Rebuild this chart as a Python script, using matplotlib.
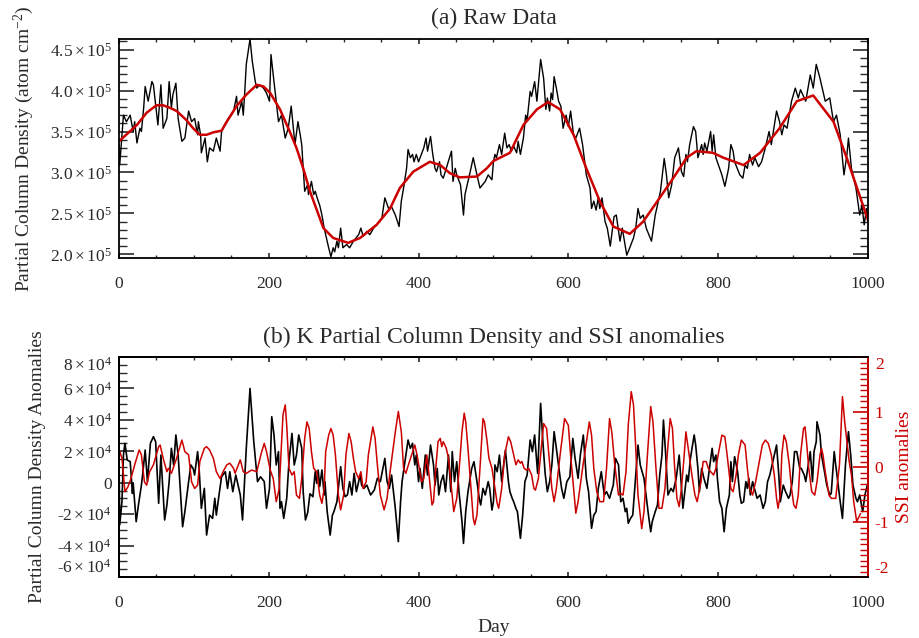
import numpy as np
import matplotlib
matplotlib.use('Agg')
import matplotlib.pyplot as plt
from matplotlib.ticker import MultipleLocator, FuncFormatter

# (a) raw partial column density, values in units of 1e5 atom cm^-2
raw_day = [0, 1, 6, 10, 15, 19, 21, 24, 28, 30, 33, 35, 39, 44, 46, 52, 56, 59, 64, 67,
           70, 72, 76, 79, 84, 88, 93, 97, 101, 105, 106, 109, 110, 115, 118, 121, 126, 130, 135, 137,
           141, 146, 150, 153, 157, 159, 164, 166, 168, 170, 175, 178, 182, 184, 188, 193, 197, 201, 203, 206,
           210, 213, 217, 222, 226, 230, 235, 239, 242, 244, 248, 252, 253, 255, 257, 260, 262, 266, 268, 271,
           274, 276, 280, 283, 286, 288, 291, 293, 296, 299, 304, 308, 313, 320, 323, 326, 331, 335, 340, 344,
           351, 355, 360, 364, 369, 374, 377, 380, 382, 384, 386, 389, 392, 394, 397, 400, 407, 410, 412, 416,
           419, 422, 424, 428, 430, 433, 437, 444, 446, 449, 451, 456, 460, 462, 464, 469, 473, 478, 482, 489,
           493, 498, 500, 502, 504, 508, 511, 515, 518, 521, 524, 527, 531, 533, 536, 540, 543, 545, 549, 551,
           555, 558, 563, 567, 570, 572, 575, 577, 579, 581, 584, 587, 590, 593, 597, 600, 603, 607, 610, 615,
           619, 624, 629, 631, 634, 637, 640, 642, 645, 649, 652, 656, 658, 661, 664, 669, 672, 678, 682, 687,
           690, 693, 696, 700, 704, 711, 716, 718, 723, 728, 731, 734, 738, 742, 747, 751, 754, 757, 759, 762,
           767, 770, 773, 778, 780, 782, 785, 790, 792, 794, 797, 802, 805, 809, 814, 817, 820, 822, 829, 833,
           836, 839, 842, 846, 849, 854, 858, 863, 868, 871, 878, 882, 885, 888, 892, 898, 903, 907, 910, 917,
           923, 927, 931, 936, 943, 949, 954, 958, 963, 968, 972, 974, 978, 984, 989, 992, 995, 998, 1000]
raw_val = [3.34, 3.09, 3.70, 3.62, 3.70, 3.50, 3.62, 3.36, 3.54, 3.50, 3.79, 4.05, 3.87, 4.11, 4.07, 3.58, 4.07, 3.54, 3.66, 4.11,
           3.79, 3.95, 4.09, 3.66, 3.38, 3.42, 3.75, 3.62, 3.66, 3.46, 3.62, 3.46, 3.24, 3.42, 3.13, 3.30, 3.26, 3.42, 3.26, 3.50,
           3.58, 3.66, 3.70, 3.75, 3.93, 3.70, 3.87, 3.70, 3.99, 4.32, 4.63, 4.36, 4.11, 4.03, 4.07, 4.03, 3.97, 3.87, 4.44, 4.19,
           3.87, 3.62, 3.70, 3.42, 3.54, 3.81, 3.34, 3.62, 3.46, 3.34, 2.77, 2.85, 2.73, 2.81, 2.89, 2.73, 2.77, 2.65, 2.60, 2.48,
           2.32, 2.24, 2.08, 1.97, 2.08, 2.03, 2.16, 2.08, 2.32, 2.08, 2.12, 2.08, 2.16, 2.24, 2.32, 2.22, 2.28, 2.24, 2.32, 2.36,
           2.44, 2.69, 2.56, 2.58, 2.48, 2.34, 2.65, 2.81, 2.93, 3.05, 3.28, 3.18, 3.22, 3.13, 3.22, 3.13, 3.30, 3.42, 3.26, 3.44,
           3.22, 3.05, 3.01, 3.13, 2.97, 2.93, 3.05, 3.26, 2.89, 3.05, 2.97, 2.85, 2.48, 2.73, 2.81, 3.01, 3.18, 2.97, 2.81, 2.89,
           2.97, 2.91, 3.13, 3.22, 3.18, 3.34, 3.22, 3.48, 3.30, 3.34, 3.26, 3.32, 3.24, 3.38, 3.22, 3.42, 3.70, 3.64, 3.99, 3.93,
           4.11, 3.87, 4.38, 4.15, 3.77, 3.91, 3.75, 3.97, 3.89, 4.17, 4.03, 3.87, 3.81, 3.54, 3.70, 3.56, 3.75, 3.46, 3.42, 3.54,
           3.34, 2.97, 2.81, 2.56, 2.65, 2.54, 2.69, 2.56, 2.69, 2.40, 2.32, 2.10, 2.24, 2.46, 2.48, 2.16, 2.32, 1.99, 2.08, 2.20,
           2.32, 2.56, 2.44, 2.48, 2.32, 2.16, 2.48, 2.56, 2.77, 3.17, 2.97, 2.69, 2.85, 3.18, 3.30, 3.01, 2.95, 3.22, 3.13, 3.34,
           3.56, 3.50, 3.18, 3.34, 3.22, 3.36, 3.26, 3.50, 3.26, 3.46, 3.18, 3.05, 2.97, 2.83, 3.05, 3.34, 3.26, 3.13, 2.97, 2.93,
           3.09, 3.05, 3.22, 3.09, 3.18, 3.07, 3.13, 3.30, 3.50, 3.34, 3.75, 3.62, 3.46, 3.58, 3.54, 3.87, 4.03, 3.91, 4.01, 3.87,
           4.19, 4.03, 4.32, 4.15, 3.87, 3.91, 3.62, 3.70, 3.46, 2.97, 3.22, 3.42, 3.05, 2.81, 2.48, 2.60, 2.36, 2.56, 2.40]

# smoothed curve (red) in panel (a)
smooth_day = [0, 24, 37, 50, 59, 68, 77, 90, 99, 108, 117, 126, 137, 144, 157, 170, 184, 193, 202, 215,
              228, 237, 246, 255, 273, 286, 306, 322, 344, 362, 375, 393, 415, 429, 442, 455, 478, 491, 500, 522,
              540, 558, 573, 589, 607, 624, 642, 660, 682, 700, 722, 740, 758, 771, 793, 807, 834, 856, 882, 905,
              927, 954, 972, 1000]
smooth_val = [3.38, 3.58, 3.73, 3.82, 3.82, 3.79, 3.75, 3.64, 3.54, 3.46, 3.46, 3.49, 3.51, 3.62, 3.81, 3.95, 4.07, 4.05, 3.97, 3.77,
              3.50, 3.30, 3.05, 2.77, 2.32, 2.20, 2.14, 2.20, 2.36, 2.56, 2.81, 3.01, 3.13, 3.09, 2.99, 2.94, 2.95, 3.05, 3.14, 3.24,
              3.58, 3.77, 3.86, 3.77, 3.46, 3.05, 2.65, 2.34, 2.25, 2.40, 2.69, 2.93, 3.18, 3.26, 3.24, 3.18, 3.09, 3.24, 3.54, 3.87,
              3.94, 3.62, 3.17, 2.42]

# (b) density anomalies, units of 1e4
anom_day = [0, 1, 4, 6, 8, 11, 15, 18, 19, 23, 26, 30, 32, 35, 38, 42, 46, 49, 53, 56,
            61, 64, 67, 70, 73, 76, 79, 82, 85, 88, 93, 96, 99, 101, 105, 107, 110, 114, 117, 121,
            125, 128, 130, 133, 137, 142, 145, 148, 152, 156, 162, 165, 170, 175, 180, 185, 189, 194, 197, 201,
            204, 207, 210, 213, 215, 217, 220, 224, 227, 231, 234, 237, 240, 244, 246, 249, 252, 255, 259, 262,
            264, 266, 268, 271, 274, 275, 278, 282, 285, 287, 291, 296, 299, 302, 305, 308, 311, 314, 317, 322,
            324, 327, 331, 336, 341, 345, 349, 355, 358, 361, 364, 369, 373, 376, 378, 386, 389, 392, 395, 397,
            400, 402, 405, 409, 412, 416, 420, 422, 425, 427, 430, 433, 436, 440, 443, 445, 448, 451, 454, 458,
            460, 463, 466, 471, 474, 478, 481, 483, 486, 489, 493, 495, 498, 500, 502, 505, 508, 511, 513, 516,
            520, 522, 525, 527, 530, 532, 536, 539, 542, 545, 549, 552, 555, 559, 563, 566, 569, 572, 575, 578,
            581, 584, 588, 591, 594, 598, 602, 606, 609, 613, 616, 620, 624, 627, 631, 634, 637, 640, 644, 648,
            651, 655, 660, 663, 667, 670, 673, 676, 678, 680, 683, 686, 688, 693, 696, 701, 707, 710, 712, 716,
            719, 722, 725, 727, 730, 733, 737, 740, 744, 748, 753, 756, 758, 760, 763, 768, 770, 773, 775, 778,
            781, 785, 789, 792, 794, 797, 799, 802, 805, 808, 811, 815, 817, 819, 822, 826, 829, 831, 834, 837,
            839, 841, 843, 846, 852, 856, 860, 863, 866, 869, 878, 881, 883, 887, 890, 894, 896, 899, 902, 905,
            909, 911, 915, 917, 923, 926, 928, 931, 932, 936, 938, 942, 945, 949, 951, 955, 957, 963, 966, 970,
            974, 977, 980, 984, 986, 989, 993, 996, 1000]
anom_val = [1.76, -2.69, -1.21, 1.76, 2.51, 1.45, 1.34, -0.68, -0.04, -2.48, -1.42, -0.15, 0.70, 2.08, 0.07, 2.51, 2.93, 2.61, -1.31, 1.76,
            -2.37, -1.42, 0.07, 2.19, 1.13, 3.04, 1.76, -0.57, -2.80, -1.84, 0.07, 1.13, 0.91, 0.49, 1.98, 0.91, -1.63, -0.36, -3.33, -2.06,
            -2.27, -0.99, -2.06, -0.99, 0.38, 0.70, -0.36, 0.70, -0.57, 0.49, -0.78, -2.37, 2.19, 6.00, 2.61, 0.07, 0.38, 0.07, -1.63, -0.36,
            4.20, 3.04, 1.13, 1.98, -1.63, -1.21, -2.27, -0.99, 1.34, 3.14, 1.13, 1.76, 3.04, 2.20, -0.60, -2.37, -1.90, -0.70, -0.89, 0.70,
            -0.04, 0.81, -0.25, 0.81, -0.78, 0.07, -1.84, -3.33, -2.06, -1.84, -1.21, 1.02, -0.36, -0.89, -0.78, 0.07, -0.78, 0.60, -0.57, 0.49,
            -0.15, -0.36, -0.15, -0.78, -0.46, 0.28, 0.07, 1.55, 0.07, -0.36, 0.49, -1.63, -3.75, -1.21, 0.07, 2.72, 2.19, 2.51, 1.13, 1.76,
            0.07, 0.91, -0.36, 1.76, 0.49, 2.40, 1.13, -0.15, 0.91, -0.78, 0.07, 0.49, -0.57, 1.76, -0.57, 1.98, 0.07, 1.34, -0.57, -2.48,
            -3.86, -1.84, -0.57, 0.91, 1.34, 0.07, -0.99, -1.42, -0.36, -0.78, 0.07, -0.36, -1.74, -1.21, 1.13, 0.70, 1.76, 0.07, 0.91, 2.08,
            0.07, -0.57, -0.99, -1.21, -1.63, -1.84, -3.54, -2.06, 0.07, 0.49, 2.72, 1.98, 3.04, 0.60, 5.05, 2.61, 0.60, -0.57, 0.07, 1.13,
            3.25, 2.19, 0.70, -0.36, -0.99, 0.07, 0.38, 2.82, 1.55, 0.28, 1.76, 3.04, 0.28, -0.57, -2.90, -2.06, -1.84, -0.36, 0.70, -0.78,
            -0.57, -0.99, -0.15, 1.55, 1.13, -1.21, -0.99, -1.84, -1.63, -2.58, -2.27, -2.06, -0.78, 2.40, 1.13, 0.28, -2.06, -3.12, -2.48, -1.84,
            -1.42, 0.49, 1.76, 3.99, 1.76, -0.78, -0.36, -0.57, 0.28, 1.76, -1.63, -0.36, 0.49, 0.07, 1.55, 3.04, 2.40, 0.91, -0.57, 0.91,
            0.28, -0.36, 1.13, 2.19, 1.34, 1.76, 0.28, -1.21, -1.63, -3.12, -1.63, -0.78, 1.34, 0.07, 1.66, 0.70, -0.78, -1.31, -1.21, 0.07,
            -0.36, 0.28, -0.78, 0.07, -0.99, -0.78, -1.63, -1.21, 0.07, 0.49, 2.40, 0.49, -1.21, -0.15, -0.57, -0.99, -0.78, 0.07, 1.98, 1.98,
            0.91, 0.91, 0.49, 0.07, 1.98, 0.07, 1.98, 2.61, 3.88, 3.04, 1.76, 0.70, -0.15, -0.78, -0.68, 1.98, 1.13, -1.21, -2.27, 1.13,
            3.25, 1.76, -0.15, -0.99, -1.21, -0.78, -1.84, -0.78, 0.00]

# SSI anomalies (red, right axis)
ssi_day = [0, 1, 4, 8, 12, 16, 21, 27, 30, 34, 37, 41, 46, 53, 55, 59, 64, 66, 70, 77,
           84, 88, 93, 97, 101, 105, 108, 114, 117, 121, 126, 130, 135, 139, 144, 148, 153, 155, 162, 166,
           170, 177, 184, 190, 194, 197, 202, 206, 210, 214, 217, 219, 222, 224, 227, 231, 234, 237, 241, 244,
           248, 251, 254, 257, 260, 264, 268, 271, 274, 276, 280, 283, 286, 289, 293, 296, 300, 303, 307, 310,
           313, 316, 320, 323, 326, 330, 333, 339, 342, 345, 349, 354, 358, 362, 369, 373, 377, 380, 383, 385,
           395, 398, 404, 407, 411, 414, 418, 420, 423, 426, 429, 431, 433, 437, 440, 444, 447, 451, 454, 458,
           461, 463, 466, 470, 473, 475, 478, 482, 486, 488, 491, 494, 498, 502, 505, 507, 511, 515, 520, 523,
           527, 530, 533, 536, 538, 541, 544, 547, 551, 554, 556, 560, 563, 567, 571, 574, 578, 581, 584, 589,
           595, 600, 603, 607, 610, 613, 619, 628, 631, 634, 638, 642, 647, 651, 655, 658, 662, 667, 670, 673,
           677, 680, 684, 687, 690, 693, 698, 701, 705, 710, 713, 717, 721, 725, 729, 732, 736, 739, 742, 745,
           748, 751, 754, 757, 760, 765, 769, 772, 777, 780, 784, 787, 790, 794, 797, 800, 805, 809, 812, 815,
           817, 820, 824, 827, 831, 836, 839, 842, 846, 850, 855, 859, 863, 867, 871, 875, 878, 880, 883, 885,
           888, 891, 895, 898, 901, 904, 907, 910, 914, 916, 918, 921, 925, 929, 932, 936, 938, 940, 943, 948,
           951, 957, 962, 966, 969, 972, 975, 978, 981, 985, 990]
ssi_val = [0.25, 0.28, 0.16, -0.45, -0.36, -0.21, 0.04, 0.31, 0.22, -0.27, -0.33, -0.085, 0.04, 0.37, 0.40, 0.16, -0.085, -0.024, -0.115, 0.16,
           0.49, 0.28, 0.22, -0.27, -0.39, -0.33, 0.10, 0.34, 0.37, 0.31, 0.16, -0.085, -0.21, -0.085, 0.04, 0.07, -0.024, -0.115, 0.13, -0.085,
           -0.115, -0.055, -0.085, 0.25, 0.43, 0.28, -0.055, -0.21, -0.63, -0.39, 0.40, 0.95, 1.13, 0.76, -0.024, -0.146, -0.085, -0.51, -0.57, -0.21,
           0.52, 0.82, 0.70, 0.28, -0.024, -0.085, -0.51, -0.66, -0.39, 0.28, 0.58, 0.70, 0.58, 0.22, -0.51, -0.78, -0.51, 0.22, 0.61, 0.46,
           0.16, -0.085, -0.21, -0.085, -0.39, -0.27, 0.22, 0.73, 0.52, 0.04, -0.51, -0.78, -0.57, -0.085, 0.64, 1.01, 0.64, -0.024, -0.115, -0.024,
           0.40, 0.22, -0.27, -0.21, 0.22, -0.146, -0.69, -0.63, -0.024, 0.46, 0.52, 0.37, 0.46, 0.34, 0.16, -0.39, -0.81, -0.57, -0.085, 0.64,
           0.98, 0.82, 0.34, -0.39, -0.93, -1.05, -0.87, -0.024, 0.88, 0.82, 0.52, 0.16, -0.024, -0.39, -0.66, -0.75, -0.39, 0.22, 0.55, 0.46,
           0.22, 0.04, 0.13, 0.07, 0.10, -0.024, -0.055, -0.024, -0.146, -0.39, -0.42, -0.21, 0.22, 0.79, 0.70, 0.22, -0.39, -0.63, -0.39, 0.22,
           0.88, 0.76, 0.22, -0.39, -0.84, -0.63, -0.024, 0.82, 0.58, -0.024, -0.45, -0.63, -0.63, -0.024, 0.88, 0.64, 0.04, -0.51, -0.48, -0.51,
           -0.085, 0.76, 1.37, 1.13, 0.34, -0.51, -1.12, -0.81, 0.10, 1.10, 0.82, -0.024, -0.75, -0.75, -0.39, 0.22, 0.88, 0.70, -0.024, -0.57,
           -0.72, -0.39, 0.10, 0.64, 0.34, -0.146, -0.51, -0.63, -0.27, 0.10, 0.10, -0.024, -0.085, -0.146, -0.024, 0.22, 0.58, 0.55, 0.22, -0.146,
           -0.39, -0.45, -0.146, 0.22, 0.49, 0.40, -0.024, -0.39, -0.51, -0.27, 0.10, 0.40, 0.49, 0.43, 0.22, -0.146, -0.57, -0.75, -0.51, 0.22,
           0.58, 0.46, 0.04, -0.39, -0.69, -0.75, -0.51, 0.22, 0.70, 0.73, 0.46, -0.024, -0.45, -0.51, -0.27, 0.22, 0.34, 0.22, -0.085, -0.51,
           -0.57, -0.57, 0.04, 1.28, 0.82, 0.46, 0.10, -0.146, -0.63, -0.99, -0.85]

RED = '#cc0000'
INK = '#2a2a2a'

plt.rcParams['font.family'] = 'Liberation Serif'
plt.rcParams['mathtext.fontset'] = 'custom'
plt.rcParams['mathtext.rm'] = 'Liberation Serif'
plt.rcParams['mathtext.it'] = 'Liberation Serif:italic'
plt.rcParams['axes.unicode_minus'] = False


def fmt_top(v, pos):
    return r'$%.1f\times10^{5}$' % (v / 1e5)


def fmt_bottom(v, pos):
    n = int(round(v / 1e4))
    if n == 0:
        return '0'
    if n < 0:
        return '-' + r'$%d\times10^{4}$' % (-n)
    return r'$%d\times10^{4}$' % n


def style_ticks(ax, right=True):
    ax.tick_params(which='both', direction='in', top=True, right=right, colors=INK, labelsize=12.5)
    ax.tick_params(axis='y', which='major', length=10.8, width=1.2, pad=5)
    ax.tick_params(axis='y', which='minor', length=5.8, width=1.0)
    ax.tick_params(axis='x', which='major', length=3.5, width=1.2, pad=13)
    ax.tick_params(axis='x', which='minor', length=2.0, width=1.0)
    ax.xaxis.set_major_locator(MultipleLocator(200))
    ax.xaxis.set_minor_locator(MultipleLocator(50))
    for s in ax.spines.values():
        s.set_linewidth(1.3)


def pull_end_labels(axis):
    # IDL keeps the end labels inside the axis range
    locs = list(axis.get_majorticklocs())
    ticks = axis.get_major_ticks()
    lo, hi = axis.axes.get_ylim()
    for loc, t in zip(locs, ticks):
        if abs(loc - hi) < 1e-9 * max(1, abs(hi)):
            t.label1.set_va('top')
            t.label2.set_va('top')
        elif abs(loc - lo) < 1e-9 * max(1, abs(lo)):
            t.label1.set_va('bottom')
            t.label2.set_va('bottom')


fig = plt.figure(figsize=(9.2, 6.38), dpi=100)
ax1 = fig.add_axes([0.1293, 0.5956, 0.8141, 0.3433])
ax2 = fig.add_axes([0.1293, 0.0956, 0.8141, 0.3448])

# panel (a)
ax1.plot(raw_day, np.array(raw_val) * 1e5, color='black', lw=1.0)
ax1.plot(smooth_day, np.array(smooth_val) * 1e5, color=RED, lw=1.8)
ax1.set_xlim(0, 1000)
ax1.set_ylim(1.955e5, 4.63e5)
style_ticks(ax1)
ax1.yaxis.set_major_locator(MultipleLocator(0.5e5))
ax1.yaxis.set_minor_locator(MultipleLocator(0.1e5))
ax1.yaxis.set_major_formatter(FuncFormatter(fmt_top))
ax1.set_title('(a) Raw Data', fontsize=17, pad=11, color=INK)
ax1.set_ylabel('Partial Column Density (atom cm$^{-2}$)', fontsize=14, color=INK)
ax1.yaxis.set_label_coords(-0.111, 0.5)

# panel (b)
ax2.plot(anom_day, np.array(anom_val) * 1e4, color='black', lw=1.2)
ax2.set_xlim(0, 1000)
ax2.set_ylim(-6e4, 8e4)
style_ticks(ax2, right=False)
ax2.yaxis.set_major_locator(MultipleLocator(2e4))
ax2.yaxis.set_minor_locator(MultipleLocator(0.5e4))
ax2.yaxis.set_major_formatter(FuncFormatter(fmt_bottom))
ax2.set_title('(b) K Partial Column Density and SSI anomalies', fontsize=17, pad=10, color=INK)
ax2.set_ylabel('Partial Column Density Anomalies', fontsize=14, color=INK)
ax2.yaxis.set_label_coords(-0.097, 0.5)
ax2.set_xlabel('Day', fontsize=14, color=INK, labelpad=6)

ax3 = ax2.twinx()
ax3.plot(ssi_day, ssi_val, color=RED, lw=1.1)
ax3.set_xlim(0, 1000)
ax3.set_ylim(-2, 2)
ax3.yaxis.set_major_locator(MultipleLocator(1))
ax3.yaxis.set_minor_locator(MultipleLocator(0.1))
ax3.tick_params(axis='y', which='both', direction='in', colors=RED, labelsize=12.5, pad=5)
ax3.tick_params(axis='y', which='major', length=10.8, width=1.2)
ax3.tick_params(axis='y', which='minor', length=5.8, width=1.0)
ax3.spines['right'].set_color(RED)
for s in ax3.spines.values():
    s.set_linewidth(1.3)
ax3.set_ylabel('SSI anomalies', fontsize=14, color=RED)
ax3.yaxis.set_label_coords(1.037, 0.5)

fig.canvas.draw()
pull_end_labels(ax2.yaxis)
pull_end_labels(ax3.yaxis)

fig.savefig('out.png', dpi=100)
